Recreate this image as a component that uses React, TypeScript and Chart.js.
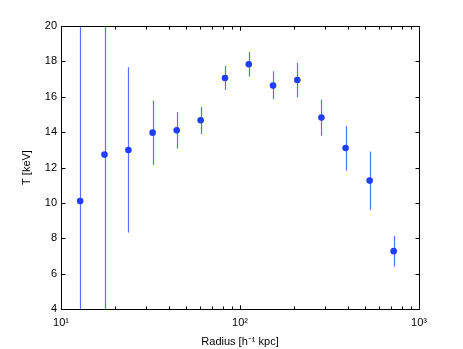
import React, { useEffect, useRef } from "react";
import { Chart, registerables } from "chart.js";

Chart.register(...registerables);

const radius = [12.8, 17.5, 23.8, 32.5, 44.3, 60.3, 82.4, 112, 153, 209, 285, 389, 530, 722];
const temperature = [10.1, 12.73, 12.99, 13.97, 14.1, 14.67, 17.06, 17.84, 16.63, 16.95, 14.82, 13.1, 11.26, 7.27];
const tLow = [0, 0, 8.32, 12.15, 13.07, 13.9, 16.38, 17.14, 15.86, 15.97, 13.79, 11.82, 9.6, 6.4];
const tHigh = [25, 25, 17.67, 15.78, 15.14, 15.42, 17.74, 18.53, 17.44, 17.91, 15.84, 14.35, 12.9, 8.14];
const xTickLabels: Record<number, string> = { 10: "10\u00B9", 100: "10\u00B2", 1000: "10\u00B3" };
const yTicks = [4, 6, 8, 10, 12, 14, 16, 18, 20];

const FONT = "'Liberation Sans', Arial, Helvetica, sans-serif";

const errorBarPlugin = {
  id: "errorBars",
  beforeDatasetsDraw(chart: any) {
    const { ctx, chartArea, scales } = chart;
    const xs = scales.x;
    const ys = scales.y;
    ctx.save();
    ctx.beginPath();
    ctx.rect(chartArea.left, chartArea.top, chartArea.right - chartArea.left, chartArea.bottom - chartArea.top);
    ctx.clip();
    ctx.strokeStyle = "#5573ff";
    ctx.lineWidth = 1.2;
    for (let i = 0; i < radius.length; i++) {
      const px = Math.round(xs.getPixelForValue(radius[i])) + 0.5;
      ctx.beginPath();
      ctx.moveTo(px, ys.getPixelForValue(tLow[i]));
      ctx.lineTo(px, ys.getPixelForValue(tHigh[i]));
      ctx.stroke();
    }
    ctx.restore();
  },
};

function drawBox(chart: any) {
  const { ctx, chartArea, scales } = chart;
  const left = Math.round(chartArea.left) + 0.5;
  const right = Math.round(chartArea.right) + 0.5;
  const top = Math.round(chartArea.top) + 0.5;
  const bottom = Math.round(chartArea.bottom) + 0.5;
  const xs = scales.x;
  const ys = scales.y;
  ctx.save();
  ctx.strokeStyle = "#000000";
  ctx.lineWidth = 1;
  ctx.beginPath();
  ctx.moveTo(left, top);
  ctx.lineTo(right, top);
  ctx.lineTo(right, bottom);
  ctx.lineTo(left, bottom);
  ctx.closePath();
  for (const v of yTicks) {
    const py = Math.round(ys.getPixelForValue(v)) + 0.5;
    ctx.moveTo(left, py);
    ctx.lineTo(left + 4, py);
    ctx.moveTo(right, py);
    ctx.lineTo(right - 4, py);
  }
  for (let d = 10; d < 1000; d *= 10) {
    for (let m = 1; m <= 10; m++) {
      const v = d * m;
      const px = Math.round(xs.getPixelForValue(v)) + 0.5;
      const len = m === 1 || m === 10 ? 4 : 3;
      ctx.moveTo(px, bottom);
      ctx.lineTo(px, bottom - len);
      ctx.moveTo(px, top);
      ctx.lineTo(px, top + len);
    }
  }
  ctx.stroke();
  ctx.restore();
}

const boxTicksPlugin = {
  id: "boxTicks",
  afterDatasetsDraw(chart: any) {
    drawBox(chart);
  },
};

export default function App() {
  const ref = useRef<HTMLCanvasElement | null>(null);
  useEffect(() => {
    if (!ref.current) return;
    const chart = new Chart(ref.current, {
      type: "scatter",
      data: {
        datasets: [
          {
            data: radius.map((r, i) => ({ x: r, y: temperature[i] })),
            backgroundColor: "#1f3fff",
            borderColor: "#1f3fff",
            pointRadius: 3.3,
            pointBorderWidth: 0,
          },
        ],
      },
      options: {
        animation: false,
        responsive: false,
        maintainAspectRatio: false,
        layout: { padding: { top: 26, right: 44, left: 0, bottom: 0 } },
        plugins: { legend: { display: false }, tooltip: { enabled: false } },
        scales: {
          x: {
            type: "logarithmic",
            min: 10,
            max: 1000,
            grid: { display: false, drawTicks: false },
            border: { display: false },
            afterFit: (s: any) => {
              s.height = 40;
            },
            afterBuildTicks: (s: any) => {
              s.ticks = [{ value: 10 }, { value: 100 }, { value: 1000 }];
            },
            ticks: {
              autoSkip: false,
              maxRotation: 0,
              padding: 7,
              color: "#000",
              font: { family: FONT, size: 11 },
              callback: (v: any) => xTickLabels[v as number] ?? "",
            },
            title: {
              display: true,
              text: "Radius [h\u207B\u00B9 kpc]",
              color: "#000",
              font: { family: FONT, size: 11 },
              padding: { top: 2, bottom: 0 },
            },
          },
          y: {
            type: "linear",
            min: 4,
            max: 20,
            grid: { display: false, drawTicks: false },
            border: { display: false },
            afterFit: (s: any) => {
              s.width = 61;
            },
            afterBuildTicks: (s: any) => {
              s.ticks = yTicks.map((v) => ({ value: v }));
            },
            ticks: {
              padding: 4,
              color: "#000",
              font: { family: FONT, size: 11 },
            },
            title: {
              display: true,
              text: "T [keV]",
              color: "#000",
              font: { family: FONT, size: 11 },
              padding: { top: 20, bottom: 0 },
            },
          },
        },
      },
      plugins: [errorBarPlugin, boxTicksPlugin],
    } as any);
    return () => chart.destroy();
  }, []);
  return (
    <div style={{ position: "absolute", left: 0, top: 0, width: 463, height: 349, background: "#fff" }}>
      <canvas ref={ref} width={463} height={349} style={{ display: "block" }} />
    </div>
  );
}
